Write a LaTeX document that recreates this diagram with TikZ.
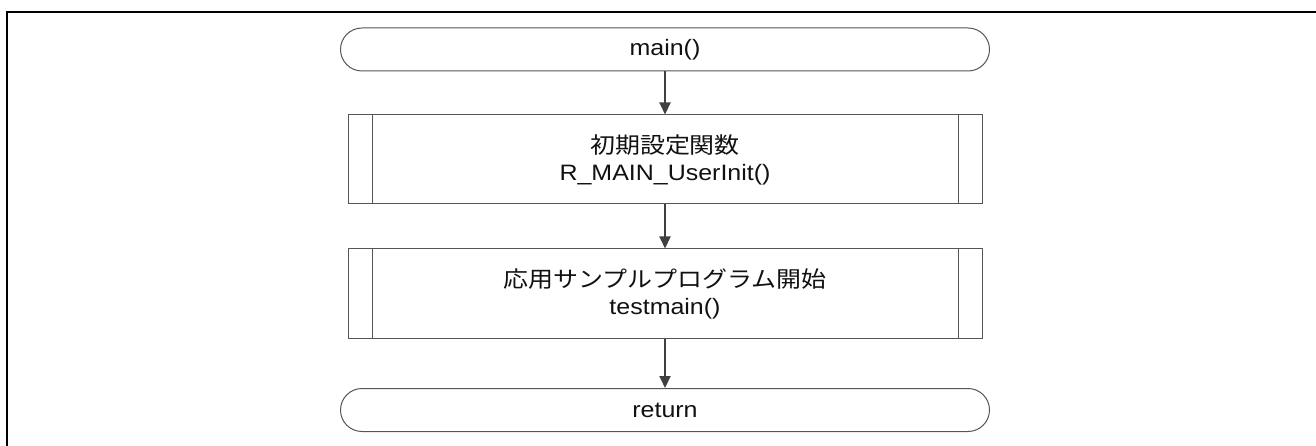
\documentclass[tikz,border=0pt]{standalone}
\usepackage{fontspec}
\setmainfont{Liberation Sans}[FakeStretch=1.12]
\newfontfamily\cjk{Noto Sans CJK JP}[FakeStretch=1.12]
\usetikzlibrary{arrows.meta}
\definecolor{shapeline}{HTML}{555555}
\definecolor{arrowcol}{HTML}{404040}
\definecolor{txt}{HTML}{111111}
\newcommand{\fs}{\fontsize{22.3}{27}\selectfont}
\begin{document}
\begin{tikzpicture}[x=1pt,y=-1pt,
  term/.style={draw=shapeline, line width=1pt, rounded corners=21.5pt,
    minimum width=649pt, minimum height=43pt, inner sep=0pt, font=\fs, text=txt},
  proc/.style={draw=shapeline, line width=1pt, minimum width=634pt, minimum height=89pt,
    inner sep=0pt, align=center, font=\fs, text=txt,
    path picture={
      \draw[shapeline, line width=1pt]
        ([xshift=24pt]path picture bounding box.north west) -- ([xshift=24pt]path picture bounding box.south west)
        ([xshift=-24pt]path picture bounding box.north east) -- ([xshift=-24pt]path picture bounding box.south east);
    }},
  arr/.style={draw=arrowcol, line width=2pt, -{Triangle[length=12pt,width=11pt]}, fill=arrowcol}
]
\useasboundingbox (0,0) rectangle (1316,446);
\draw[line width=2.5pt, black] (1316,12) -- (7,12) -- (7,446);
\node[term] (start) at (665,49.5) {main()};
\node[proc] (init) at (665,159.5) {{\cjk 初期設定関数}\\R\_MAIN\_UserInit()};
\node[proc] (test) at (665,293.5) {{\cjk 応用サンプルプログラム開始}\\testmain()};
\node[term] (ret) at (665,410) {return};
\draw[arr] (start) -- (init);
\draw[arr] (init) -- (test);
\draw[arr] (test) -- (ret);
\end{tikzpicture}
\end{document}
